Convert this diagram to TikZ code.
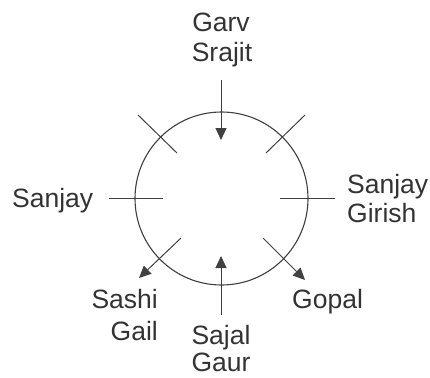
\documentclass[tikz,border=0pt]{standalone}
\usepackage{fontspec}
\setmainfont{Liberation Sans}
\usetikzlibrary{arrows.meta}
\definecolor{ink}{HTML}{333333}
\definecolor{linegray}{HTML}{404040}
\begin{document}
\begin{tikzpicture}[x=1pt,y=-1pt,
  lbl/.style={font=\fontsize{26.5}{30}\selectfont, text=ink, inner sep=0pt},
  conn/.style={draw=linegray, line width=1pt},
  arr/.style={conn, -{Triangle[length=12pt,width=11pt]}}]
\useasboundingbox[fill=white] (0,0) rectangle (430,377);
\node[circle, draw=linegray, line width=1.1pt, minimum size=173pt, inner sep=0pt] (c) at (221.5,198.5) {};
% connector end points
\coordinate (topO) at (221,80);   \coordinate (topI) at (221,140);
\coordinate (botO) at (221,315);  \coordinate (botI) at (221,256);
\coordinate (lefO) at (109,198);  \coordinate (lefI) at (163,198);
\coordinate (rigO) at (335,198);  \coordinate (rigI) at (280,198);
\coordinate (tlO) at (138,115);   \coordinate (tlI) at (177,153);
\coordinate (trO) at (305,115);   \coordinate (trI) at (266,153);
\coordinate (blI) at (181,238);   \coordinate (blO) at (139,278);
\coordinate (brI) at (263,238);   \coordinate (brO) at (305,280);
% connectors
\draw[arr] (topO) -- (topI);
\draw[arr] (botO) -- (botI);
\draw[conn] (lefO) -- (lefI);
\draw[conn] (rigO) -- (rigI);
\draw[conn] (tlO) -- (tlI);
\draw[conn] (trO) -- (trI);
\draw[arr] (blI) -- (blO);
\draw[arr] (brI) -- (brO);
% labels
\node[lbl, anchor=base] (garv) at (221,32) {Garv};
\node[lbl, anchor=base] (srajit) at (222,62) {Srajit};
\node[lbl, anchor=base west] (sanjayL) at (12,207) {Sanjay};
\node[lbl, anchor=base west] (sanjayR) at (347,193) {Sanjay};
\node[lbl, anchor=base west] (girish) at (347,222) {Girish};
\node[lbl, anchor=base east] (sashi) at (158,308) {Sashi};
\node[lbl, anchor=base east] (gail) at (158,340) {Gail};
\node[lbl, anchor=base] (sajal) at (221,344) {Sajal};
\node[lbl, anchor=base] (gaur) at (221,371) {Gaur};
\node[lbl, anchor=base west] (gopal) at (292,308) {Gopal};
\end{tikzpicture}
\end{document}
